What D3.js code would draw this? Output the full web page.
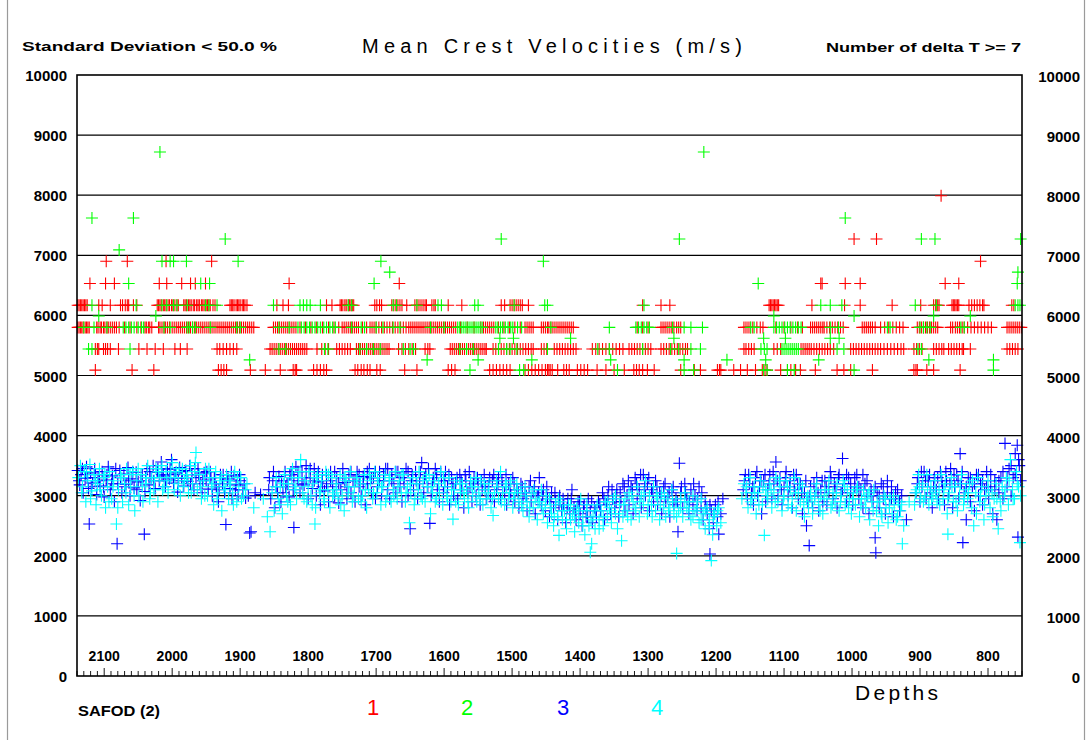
<!DOCTYPE html>
<html>
<head>
<meta charset="utf-8">
<script src="https://cdn.jsdelivr.net/npm/d3@7"></script>
<style>
  body { margin: 0; background: #fff; }
  text { font-family: "Liberation Sans", Arial, sans-serif; }
</style>
</head>
<body>
<svg id="chart" width="1087" height="740"></svg>
<script>
// axis ticks
const yTicks = [0, 1000, 2000, 3000, 4000, 5000, 6000, 7000, 8000, 9000, 10000];
const depthLabels = [2100, 2000, 1900, 1800, 1700, 1600, 1500, 1400, 1300, 1200, 1100, 1000, 900, 800];

// series 1 (red) - depths per velocity level
const red7990 = [869];
const red7270 = [997, 964];
const red6900 = [2097, 2066, 2009, 1942, 811];
const red6530 = [2121, 2098, 2085, 2019, 2008, 1986, 1973, 1966, 1951, 1828, 1666, 1046, 1044, 1010, 988, 863, 843];
const red6170 = [2139, 2137, 2135, 2133, 2131, 2129, 2127, 2125, 2108, 2103, 2091, 2076, 2073, 2069, 2066, 2064, 2057, 2052,
  2022, 2020, 2018, 2016, 2013, 2011, 2009, 2006, 2004, 2001, 1999, 1996, 1993, 1991,
  1983, 1981, 1979, 1976, 1974, 1972, 1969, 1967, 1964, 1962, 1960, 1957, 1955, 1953, 1950, 1948, 1946, 1944, 1940, 1937,
  1915, 1913, 1911, 1909, 1906, 1904, 1902, 1900, 1897, 1895, 1893, 1890, 1846, 1837, 1829, 1773, 1765,
  1753, 1751, 1749, 1746, 1744, 1741, 1739, 1737, 1735, 1733, 1702, 1699, 1695, 1692, 1677, 1674, 1671, 1668, 1665, 1662, 1655,
  1643, 1640, 1637, 1634, 1631, 1628, 1626, 1618, 1615, 1613, 1594, 1574, 1516, 1511, 1503, 1500, 1497, 1494, 1491, 1488, 1485, 1476,
  1308, 1281, 1268, 1122, 1120, 1118, 1116, 1114, 1112, 1110, 1108, 1059, 1011, 988, 941, 899, 880, 877, 874, 872,
  853, 851, 849, 847, 845, 843, 828, 824, 820, 816, 812, 808, 806, 765, 762];
const red5800 = [2139, 2137, 2135, 2133, 2131, 2128, 2126, 2124, 2122, 2111, 2109, 2106, 2104, 2101, 2099, 2096, 2094, 2091, 2088, 2085, 2082,
  2078, 2070, 2062, 2052, 2046, 2040, 2038, 2035, 2033, 2030,
  2020, 2018, 2015, 2012, 2010, 2007, 2004, 2000, 1997, 1994, 1991, 1988, 1985, 1982, 1979, 1976, 1973, 1970, 1967, 1964, 1961, 1958,
  1955, 1952, 1949, 1946, 1943, 1940, 1937, 1934, 1931, 1928, 1925, 1922, 1919, 1916, 1913, 1910, 1907, 1904, 1901, 1898, 1895, 1892,
  1889, 1886, 1883, 1880,
  1851, 1848, 1845, 1842, 1839, 1836, 1833, 1830, 1827, 1824, 1821, 1818, 1812, 1804, 1796, 1788, 1779, 1770, 1762, 1755, 1750, 1747,
  1744, 1741, 1738, 1735, 1732, 1729, 1726, 1720, 1714, 1709, 1706, 1703, 1700, 1696, 1692, 1688, 1684, 1680, 1676, 1672, 1668, 1664,
  1660, 1656, 1652, 1649, 1646, 1643, 1640, 1637, 1634, 1631, 1628, 1625, 1622, 1619, 1616, 1613, 1610, 1607, 1604, 1601, 1598, 1595,
  1592, 1589, 1586, 1583, 1576, 1566, 1556, 1546, 1542, 1539, 1536, 1533, 1530, 1527, 1520, 1512, 1504, 1496, 1488, 1481, 1478, 1475,
  1472, 1469, 1457, 1454, 1451, 1448,
  1446, 1443, 1440, 1437, 1434, 1431, 1428, 1425, 1422, 1419, 1416, 1413, 1410, 1316, 1308, 1300,
  1281, 1278, 1275, 1272, 1269, 1266, 1262, 1258, 1255, 1252, 1159, 1156, 1153, 1150, 1146, 1140, 1135, 1131, 1112, 1100, 1090, 1080, 1073,
  1061, 1058, 1055, 1052, 1049, 1046, 1043, 1041, 1037, 1033, 1029, 1025, 1021, 1017, 1013, 985, 982, 979, 976, 973, 970, 966,
  958, 952, 946, 940, 935, 930, 925, 904, 901, 898, 895, 892, 889, 886, 883, 880, 877, 874,
  855, 852, 848, 845, 842, 838, 835, 830, 825, 820, 815, 810, 805, 800, 795, 772, 769, 766, 763, 760, 757, 754, 751];
const red5440 = [2113, 2110, 2108, 2101, 2098, 2095, 2091, 2079, 2049, 2037, 2025, 2013, 1996, 1988, 1978,
  1934, 1930, 1925, 1920, 1915, 1910, 1905,
  1856, 1853, 1850, 1847, 1844, 1841, 1838, 1835, 1832, 1829, 1826, 1823, 1820, 1817, 1814, 1811, 1808, 1805, 1802,
  1787, 1780, 1775, 1770, 1758, 1754, 1750, 1746, 1742, 1738,
  1729, 1726, 1723, 1720, 1717, 1714, 1711, 1708, 1705, 1702, 1699, 1696, 1693, 1690, 1687, 1684, 1681,
  1667, 1662, 1657, 1652, 1647, 1642, 1628, 1624, 1621,
  1591, 1588, 1585, 1582, 1579, 1576, 1573, 1570, 1567, 1564, 1561, 1558, 1555, 1552, 1549, 1546, 1543, 1540, 1538,
  1528, 1524, 1520, 1516, 1512, 1508, 1504, 1500, 1496, 1492, 1488, 1484, 1480, 1476, 1472, 1469, 1457, 1453, 1449,
  1438, 1434, 1430, 1426, 1422, 1418, 1414, 1410, 1406, 1382, 1377, 1372, 1367, 1362, 1357, 1352, 1347, 1342, 1337,
  1328, 1324, 1320, 1316, 1312, 1308, 1304, 1300, 1296, 1281, 1277, 1273, 1269, 1265, 1261, 1257, 1253, 1249, 1245, 1242,
  1159, 1156, 1152, 1148, 1144, 1115, 1110, 1105, 1075, 1072, 1069, 1066, 1063, 1060,
  1056, 1052, 1048, 1044, 1040, 1036, 1032, 1027, 1002, 998, 994, 990, 986, 982, 978, 974, 970, 966, 962, 958,
  953, 948, 943, 938, 933, 928, 924, 909, 905, 901, 897, 880, 876, 872, 868, 865,
  858, 854, 850, 846, 842, 838, 836, 826, 772, 768, 764, 760, 756];
const red5090 = [2113, 2059, 2027, 1932, 1928, 1924, 1920, 1885, 1863, 1841, 1822, 1819, 1817, 1792, 1787, 1782, 1777, 1773,
  1731, 1727, 1722, 1718, 1713, 1709, 1699, 1694, 1658, 1640, 1594, 1589, 1584, 1533, 1528, 1523, 1518, 1513, 1508, 1503,
  1481, 1476, 1471, 1466, 1461, 1456, 1451, 1448, 1446, 1444, 1441, 1433, 1424, 1420, 1416, 1404, 1399, 1394, 1389,
  1375, 1362, 1350, 1335, 1321, 1317, 1313, 1308, 1301, 1291, 1252, 1232, 1223, 1198, 1195, 1193, 1174, 1164, 1154,
  1142, 1132, 1128, 1125, 1105, 1095, 1090, 1083, 1076, 1054, 1022, 1012, 1002, 970, 909, 906, 904, 890, 880, 841];

// series 2 (green) - depths per velocity level
const green8720 = [2018, 1218];
const green7620 = [2118, 2057, 1010];
const green7270 = [1922, 1516, 1254, 898, 878, 752];
const green7090 = [2078];
const green6900 = [2015, 2003, 1998, 1979, 1903, 1693, 1454];
const green6720 = [1680, 756];
const green6530 = [2064, 1958, 1945, 1703, 1138, 757];
const green6170 = [2118, 2053, 2015, 2008, 1998, 1993, 1978, 1951, 1946, 1934, 1851, 1812, 1807, 1802, 1797, 1782, 1741, 1736,
  1675, 1670, 1640, 1609, 1604, 1555, 1550, 1497, 1452, 1448, 1306, 1046, 1032, 1015, 907, 876, 760, 756, 753];
const green5990 = [2108, 2024, 1115, 997, 880, 826];
const green5800 = [2130, 2115, 2096, 2072, 2068, 2064, 2060, 2056, 2050, 2045, 2042, 2012, 2003, 1978, 1975, 1970, 1966, 1944,
  1905, 1900, 1843, 1828, 1815, 1810, 1806, 1802, 1798, 1794, 1790, 1786, 1782, 1777, 1773, 1768, 1764, 1760, 1736, 1722,
  1717, 1700, 1690, 1675, 1665, 1620, 1600, 1580, 1577, 1574, 1571, 1568, 1565, 1562, 1559, 1556, 1553, 1550, 1547, 1544,
  1524, 1521, 1517, 1514, 1510, 1506, 1502, 1499, 1492, 1486, 1443, 1357, 1318, 1314, 1310, 1306, 1302, 1298, 1264, 1247,
  1237, 1220, 1149, 1144, 1115, 1111, 1107, 1103, 1099, 1095, 1091, 1087, 1083, 1079, 1075, 1032, 1020, 948, 944, 900, 895,
  890, 885, 840, 835];
const green5620 = [1518, 1498, 1414, 1262, 1130, 1098, 1032, 1019];
const green5440 = [2123, 2118, 2062, 1843, 1833, 1776, 1771, 1724, 1714, 1704, 1694, 1660, 1650, 1645, 1577, 1567, 1557,
  1520, 1508, 1503, 1493, 1448, 1374, 1357, 1308, 1267, 1255, 1237, 1223, 1134, 1129, 1125, 1103, 1100, 1097, 1094, 1091,
  1088, 1085, 1082, 1079, 1022, 1012, 903, 898];
const green5260 = [1886, 1625, 1550, 1471, 1355, 1247, 1184, 1127, 1049, 887, 792];
const green5090 = [1562, 1489, 1483, 1345, 1247, 1233, 1130, 1125, 1095, 1085, 997, 792];

// series 3 (blue) - [depth, velocity]
const blue = [
  [2139,3420],[2136,3180],[2134,3350],[2131,3050],[2128,3290],[2126,3480],[2123,3120],[2122,2530],[2120,3380],[2117,3210],
  [2114,3450],[2111,3020],[2109,3300],[2106,3160],[2103,3400],[2100,2980],[2097,3260],[2094,3480],[2091,3100],[2088,3330],
  [2085,2900],[2081,2200],[2080,3200],[2077,3420],[2074,3050],[2071,3360],[2068,3190],[2065,3470],[2062,3000],[2059,3280],
  [2056,3130],[2053,3390],[2050,3230],[2047,2920],[2044,3350],[2041,2360],[2040,3070],[2037,3450],[2034,3180],[2031,3300],
  [2028,3500],[2025,3120],[2022,3390],[2019,3250],[2016,3560],[2013,3330],[2010,3150],[2007,3440],[2004,3280],[2001,3600],
  [1998,3210],[1995,3380],[1992,3060],[1989,3470],[1986,3290],[1983,3160],[1980,3420],[1977,3240],[1974,3500],[1971,3350],
  [1968,3100],[1965,3300],[1962,3450],[1959,3200],[1956,3050],[1953,3380],[1950,3260],[1947,3110],[1944,3400],[1941,3000],
  [1938,3300],[1935,3150],[1932,2900],[1929,3350],[1926,3200],[1923,3050],[1921,2520],[1918,3280],[1915,3120],[1912,2950],
  [1909,3330],[1906,3180],[1903,3000],[1900,3250],[1896,3100],[1892,2960],[1886,2380],[1884,2400],[1878,3050],[1870,3020],
  [1858,3100],[1855,2950],[1852,3250],[1849,2800],[1846,3150],[1843,3320],[1840,2900],[1837,3050],[1834,3400],[1831,3200],
  [1828,2980],[1825,3350],[1822,3100],[1821,2470],[1818,3480],[1815,3250],[1812,3050],[1809,3400],[1806,3180],[1803,3500],
  [1800,2950],[1797,3300],[1794,3120],[1791,3450],[1788,3000],[1785,3230],[1782,2850],[1779,3350],[1776,3080],[1773,3200],
  [1770,2900],[1767,3400],[1764,3150],[1761,3000],[1758,3300],[1755,2880],[1752,3100],[1749,3450],[1746,3220],[1743,2950],
  [1740,3350],[1737,3050],[1734,3250],[1731,2900],[1728,3400],[1725,3150],[1722,3000],[1719,3320],[1716,2850],[1713,3200],
  [1710,3450],[1707,3050],[1704,3300],[1701,2950],[1698,3150],[1695,3400],[1692,3000],[1689,3250],[1686,3450],[1683,3100],
  [1680,2950],[1677,3350],[1674,3200],[1671,3050],[1668,3400],[1665,3150],[1662,2900],[1659,3300],[1656,3450],[1653,3000],
  [1650,2450],[1648,3250],[1645,3100],[1642,3400],[1639,2950],[1636,3200],[1633,3550],[1630,3050],[1627,3350],[1624,3150],
  [1621,2540],[1619,3000],[1616,3300],[1613,3450],[1610,3100],[1607,2900],[1604,3250],[1601,3050],[1598,3400],[1595,3150],
  [1592,2850],[1589,3300],[1586,3000],[1583,3200],[1580,2950],[1577,3350],[1574,3100],[1571,2800],[1568,3250],[1565,3050],
  [1562,3150],[1559,2900],[1556,3300],[1553,3000],[1550,3200],[1547,2850],[1544,3100],[1541,3350],[1538,2950],[1535,3150],
  [1532,3000],[1529,3250],[1526,2900],[1523,3100],[1520,3300],[1517,2950],[1514,3150],[1511,3050],[1508,2850],[1505,3200],
  [1502,3000],[1499,3300],[1496,2900],[1493,3100],[1490,2800],[1487,3200],[1484,2950],[1481,3050],[1478,2750],[1475,3150],
  [1472,2900],[1469,3050],[1466,2700],[1463,3000],[1460,3300],[1457,2850],[1454,3100],[1451,2750],[1448,2950],[1445,2650],
  [1442,3050],[1439,2800],[1436,2900],[1433,2600],[1430,3000],[1427,2750],[1424,2850],[1421,2550],[1418,2950],[1415,2700],
  [1412,3100],[1409,2800],[1406,2600],[1403,2900],[1400,2700],[1397,2500],[1394,2850],[1391,2650],[1388,2950],[1385,2750],
  [1382,2550],[1379,2800],[1376,2650],[1373,2900],[1370,2750],[1367,3050],[1364,2600],[1361,2850],[1358,3150],[1355,2700],
  [1352,2950],[1349,2800],[1346,3100],[1343,2650],[1340,2900],[1337,3200],[1334,2750],[1331,3000],[1328,2850],[1325,3150],
  [1322,2700],[1319,3300],[1316,2950],[1313,3100],[1310,2800],[1307,3350],[1304,3000],[1301,3200],[1298,2750],[1295,3100],
  [1292,2900],[1289,3250],[1286,2850],[1283,3050],[1280,2700],[1277,3150],[1274,2900],[1271,3000],[1268,2650],[1265,3100],
  [1262,2850],[1259,2950],[1256,2400],[1254,3540],[1252,3050],[1249,2800],[1246,3200],[1243,2950],[1240,2700],[1237,3100],
  [1234,2850],[1231,3000],[1228,2750],[1225,3150],[1222,2800],[1219,2600],[1216,2900],[1213,2700],[1210,2450],[1209,2030],
  [1207,2750],[1204,2550],[1201,2850],[1198,2650],[1196,2360],[1193,2700],[1190,2950],[1160,3100],[1157,3350],[1154,2950],
  [1151,3200],[1148,3050],[1145,2850],[1142,3300],[1139,3000],[1136,3150],[1133,2700],[1130,3250],[1127,2900],[1124,3100],
  [1121,3350],[1118,2950],[1115,3200],[1112,3560],[1109,3000],[1106,3300],[1103,2850],[1100,3150],[1097,3400],[1094,3000],
  [1091,3250],[1088,2800],[1085,3100],[1082,3350],[1079,2950],[1076,3200],[1073,2700],[1070,3050],[1067,2500],[1065,2900],
  [1063,2170],[1061,3150],[1058,2800],[1055,3000],[1052,3300],[1049,2750],[1046,3100],[1043,2900],[1040,3250],[1037,2850],
  [1034,3050],[1031,3300],[1028,2950],[1025,3150],[1022,2800],[1019,3350],[1016,3050],[1014,3620],[1011,3200],[1008,2900],
  [1005,3300],[1002,3050],[999,2850],[996,3150],[993,3350],[990,2950],[987,3100],[984,2800],[981,3200],[978,3000],
  [975,2700],[972,3100],[969,2900],[966,2300],[965,2050],[963,3050],[960,2800],[957,3200],[954,2950],[951,2700],
  [948,3050],[945,2850],[942,3150],[939,2650],[936,2950],[933,3100],[930,2750],[927,3000],[920,2600],[906,3050],
  [903,3300],[900,2900],[897,3150],[894,3400],[891,2950],[888,3250],[885,3050],[882,2800],[879,3300],[876,3100],
  [873,2950],[870,3400],[867,3150],[864,2850],[861,3250],[858,3000],[855,3450],[852,2800],[849,3150],[846,3350],
  [843,2950],[841,3700],[839,3200],[837,2220],[835,3050],[832,2600],[829,3300],[826,2900],[823,3150],[820,2750],
  [817,3350],[814,3000],[811,3200],[808,2850],[805,3100],[802,3400],[799,2950],[796,3150],[793,2700],[790,3250],
  [787,2600],[784,3050],[781,3300],[778,2950],[775,3870],[772,3150],[769,3450],[766,3000],[763,3300],[760,3700],
  [757,3840],[756,2310],[754,3500],[752,3250],
  [2137,3250],[2132,3450],[2125,3300],[2119,3150],[2113,3350],[2107,3250],[2101,3150],[2096,3350],[2089,3200],[2083,3450],
  [2076,3300],[2070,3150],[2064,3250],[2058,3400],[2052,3100],[2046,3250],[2039,3300],[2033,3400],[2027,3250],[2021,3450],
  [2015,3350],[2009,3250],[2003,3450],[1997,3350],[1991,3250],[1985,3400],[1979,3300],[1973,3200],[1967,3450],[1961,3350],
  [1955,3250],[1949,3400],[1943,3300],[1937,3200],[1931,3100],[1925,3350],[1919,3250],[1913,3400],[1907,3100],[1901,3350],
  [1894,3200],[1888,3000],[1857,3300],[1851,3400],[1845,3050],[1839,3250],[1833,3150],[1827,3350],[1821,3300],[1815,3400],
  [1809,3200],[1803,3300],[1797,3450],[1791,3250],[1785,3400],[1779,3150],[1773,3350],[1767,3250],[1761,3400],[1755,3200],
  [1749,3300],[1743,3150],[1737,3400],[1731,3250],[1725,3350],[1719,3200],[1713,3400],[1707,3300],[1701,3400],[1695,3250],
  [1689,3350],[1683,3450],[1677,3250],[1671,3400],[1665,3300],[1659,3200],[1653,3400],[1647,3350],[1641,3250],[1635,3400],
  [1629,3300],[1623,3450],[1617,3200],[1611,3350],[1605,3400],[1599,3250],[1593,3350],[1587,3200],[1581,3300],[1575,3250],
  [1569,3350],[1563,3400],[1557,3200],[1551,3300],[1545,3250],[1539,3150],[1533,3300],[1527,3350],[1521,3200],[1515,3250],
  [1509,3350],[1503,3100],[1497,3200],[1491,3050],[1485,3150],[1479,3000],[1473,3250],[1467,3150],[1461,3050],[1455,3000],
  [1449,3150],[1443,2900],[1437,3050],[1431,2850],[1425,2950],[1419,2800],[1413,2950],[1407,2750],[1401,2900],[1395,2800],
  [1389,2650],[1383,2900],[1377,2750],[1371,2850],[1365,2950],[1359,3000],[1353,3100],[1347,2900],[1341,3050],[1335,3150],
  [1329,3250],[1323,3100],[1317,3200],[1311,3350],[1305,3150],[1299,3300],[1293,3050],[1287,3150],[1281,3000],[1275,3200],
  [1269,3050],[1263,3150],[1257,2900],[1251,3150],[1245,3050],[1239,2900],[1233,3200],[1227,2950],[1221,3050],[1215,2800],
  [1209,2850],[1203,2700],[1197,2900],[1158,3250],[1152,3350],[1146,3150],[1140,3400],[1134,3250],[1128,3350],[1122,3200],
  [1116,3400],[1110,3250],[1104,3100],[1098,3300],[1092,3150],[1086,3350],[1080,3200],[1074,3050],[1068,3250],[1062,3000],
  [1056,3200],[1050,3050],[1044,3250],[1038,3150],[1032,3400],[1026,3200],[1020,3300],[1014,3100],[1008,3350],[1002,3200],
  [996,3300],[990,3150],[984,3350],[978,3250],[972,3000],[966,3150],[960,3000],[954,3150],[948,3250],[942,2950],
  [936,3050],[930,2900],[904,3200],[898,3400],[892,3250],[886,3350],[880,3150],[874,3300],[868,3250],[862,3400],
  [856,3200],[850,3350],[844,3250],[838,3400],[832,3150],[826,3300],[820,3200],[814,3350],[808,3250],[802,3150],
  [796,3350],[790,3100],[784,3250],[778,3400],[772,3300],[766,3500],[760,3350],[755,3600]
];

// series 4 (cyan) - [depth, velocity]
const cyan = [
  [2138,3300],[2135,3500],[2132,3150],[2129,3400],[2127,2900],[2124,3250],[2121,3520],[2118,3080],[2115,3350],[2112,2850],
  [2110,3200],[2107,3450],[2104,3000],[2101,3300],[2098,2800],[2095,3150],[2092,3400],[2089,2950],[2086,3250],[2082,2530],
  [2079,3100],[2076,3350],[2073,2900],[2070,3200],[2067,3450],[2064,2850],[2061,3150],[2058,3400],[2055,2750],[2052,3250],
  [2049,3000],[2046,3350],[2043,2900],[2039,3200],[2036,3500],[2033,2950],[2030,3300],[2027,3100],[2024,3450],[2021,2900],
  [2018,3300],[2015,3500],[2012,3150],[2009,3400],[2006,3050],[2003,3300],[2000,3550],[1997,3100],[1994,3400],[1991,3200],
  [1988,3000],[1985,3450],[1982,3250],[1979,3350],[1976,3050],[1973,3500],[1970,3200],[1967,3400],[1965,3720],[1963,3100],
  [1960,3350],[1957,2950],[1954,3250],[1951,3450],[1948,3000],[1945,3300],[1942,3150],[1939,2850],[1936,3400],[1933,3050],
  [1930,3250],[1927,2750],[1924,3150],[1920,3350],[1917,2950],[1914,3200],[1911,3050],[1908,3400],[1905,2900],[1902,3150],
  [1899,3300],[1895,3000],[1890,3200],[1880,2800],[1866,2950],[1860,2650],[1856,2400],[1853,3050],[1850,2750],[1847,3300],
  [1844,2950],[1841,3150],[1838,2700],[1835,3350],[1832,3000],[1829,3200],[1826,2850],[1823,3450],[1820,3100],[1817,2950],
  [1814,3300],[1811,3600],[1808,3050],[1805,3250],[1802,2900],[1799,3400],[1796,3000],[1793,3200],[1790,2530],[1789,2800],
  [1786,3350],[1783,3050],[1780,3250],[1777,2950],[1774,3400],[1771,3100],[1768,2800],[1765,3300],[1762,3050],[1759,3200],
  [1756,2950],[1753,3350],[1750,3000],[1747,2750],[1744,3250],[1741,3050],[1738,3400],[1735,2900],[1732,3150],[1729,3300],
  [1726,2950],[1723,3200],[1720,3000],[1717,3350],[1714,2800],[1711,3100],[1708,3250],[1705,2950],[1702,3400],[1699,3050],
  [1696,3200],[1693,2850],[1690,3150],[1687,3350],[1684,3000],[1681,3250],[1678,2900],[1675,3100],[1672,3400],[1669,2950],
  [1666,3250],[1663,3050],[1660,3350],[1657,2900],[1654,3150],[1651,2550],[1649,3050],[1646,3300],[1643,2950],[1640,3200],
  [1637,3400],[1634,3000],[1631,3250],[1628,2900],[1625,3150],[1622,3350],[1620,2700],[1617,3050],[1614,3250],[1611,2950],
  [1608,3200],[1605,3400],[1602,2850],[1599,3150],[1596,3000],[1593,3300],[1590,2900],[1587,2610],[1585,3100],[1582,3250],
  [1579,2850],[1576,3050],[1573,3200],[1570,2950],[1567,3100],[1564,2800],[1561,3250],[1558,3000],[1555,3150],[1552,2900],
  [1549,3050],[1546,3250],[1543,2850],[1540,3100],[1537,2950],[1534,3200],[1531,2800],[1528,2670],[1526,3050],[1523,3250],
  [1520,2950],[1517,3400],[1514,3050],[1511,2850],[1508,3150],[1505,2950],[1502,3250],[1499,2800],[1496,3050],[1493,3200],
  [1490,2900],[1487,3050],[1484,2750],[1481,3150],[1478,2900],[1475,2650],[1472,3050],[1469,2800],[1466,2950],[1463,2600],
  [1460,2900],[1457,3100],[1454,2700],[1451,2850],[1448,2550],[1445,2950],[1442,2700],[1439,2500],[1436,2850],[1433,2650],
  [1431,2340],[1429,2900],[1426,2600],[1423,2750],[1420,2450],[1417,2850],[1414,2600],[1411,2700],[1408,2400],[1405,2800],
  [1402,2550],[1399,2950],[1396,2650],[1393,2350],[1390,2750],[1387,2500],[1385,2060],[1383,2200],[1381,2650],[1378,2450],
  [1375,2850],[1372,2600],[1369,2750],[1366,2500],[1363,2900],[1360,2650],[1357,2800],[1354,2550],[1351,2950],[1348,2700],
  [1345,2450],[1342,2850],[1339,2250],[1337,2650],[1334,2950],[1331,2750],[1328,3050],[1325,2600],[1322,2900],[1319,2800],
  [1316,3150],[1313,2650],[1310,3000],[1307,2850],[1304,3250],[1301,2700],[1298,3000],[1295,2850],[1292,3150],[1289,2750],
  [1286,2950],[1283,2600],[1280,3050],[1277,2800],[1274,2650],[1271,2950],[1268,2800],[1265,3100],[1262,2700],[1259,2900],
  [1258,2040],[1255,2750],[1252,2950],[1249,2650],[1246,3050],[1243,2800],[1240,2900],[1237,2600],[1234,3000],[1231,2750],
  [1228,2900],[1225,2550],[1222,2950],[1219,2700],[1216,2450],[1213,2800],[1210,2600],[1207,1920],[1205,2350],[1202,2700],
  [1199,2500],[1196,2800],[1193,2550],[1162,2950],[1159,3200],[1156,3050],[1153,2800],[1150,3300],[1147,2950],[1144,3150],
  [1141,2700],[1138,3050],[1135,3250],[1132,2850],[1129,2340],[1127,3100],[1124,2950],[1121,3200],[1118,2800],[1115,3050],
  [1112,3300],[1109,2900],[1106,3150],[1103,2750],[1100,3000],[1097,3250],[1094,2850],[1091,3100],[1088,2950],[1085,3300],
  [1082,2750],[1079,3050],[1076,2900],[1073,3150],[1070,2650],[1067,2950],[1064,2800],[1061,3050],[1058,2700],[1055,2950],
  [1052,3200],[1049,2850],[1046,3000],[1043,2700],[1040,3100],[1037,2950],[1034,3250],[1031,2800],[1028,3050],[1025,2900],
  [1022,3200],[1019,2750],[1016,3000],[1013,3250],[1010,2850],[1007,3100],[1004,2950],[1001,2700],[998,3050],[995,2850],
  [992,3150],[989,2650],[986,2950],[983,3100],[980,2800],[977,3000],[974,2600],[971,2900],[968,3100],[964,2750],
  [961,2500],[959,2900],[956,2650],[953,3000],[950,2800],[947,2550],[944,2950],[941,2700],[938,2850],[935,2600],
  [932,2900],[929,2750],[926,2200],[924,2500],[916,2900],[908,2850],[905,3100],[902,3350],[899,2950],[896,3200],
  [893,3000],[890,3350],[887,2850],[884,3150],[881,3000],[878,3250],[875,2900],[872,3100],[869,3350],[866,2950],
  [863,3200],[860,2700],[859,2360],[857,3050],[854,3300],[851,2900],[848,3150],[845,2750],[842,3000],[839,3350],
  [836,2850],[833,3100],[830,2950],[827,3200],[824,2800],[821,2500],[818,3050],[815,3300],[812,2900],[809,3150],
  [806,2600],[803,3000],[800,3250],[797,2800],[794,3050],[791,2950],[788,3200],[785,2450],[782,2900],[779,3150],
  [776,3000],[773,3300],[770,2850],[767,3600],[764,3100],[761,2950],[758,3400],[755,3150],[753,2220],
  [2133,3050],[2126,3400],[2120,2950],[2113,3250],[2106,3100],[2099,3350],[2093,2900],[2087,3150],[2080,2800],[2074,3300],
  [2068,3050],[2062,3350],[2056,3000],[2050,3450],[2044,3150],[2038,3300],[2032,3050],[2026,3250],[2020,3400],[2014,3100],
  [2008,3250],[2002,3400],[1996,3300],[1990,3450],[1984,3150],[1978,3300],[1972,3050],[1966,3550],[1958,3150],[1952,3000],
  [1946,3450],[1940,3200],[1934,2950],[1928,3300],[1922,3100],[1916,3250],[1910,2850],[1904,3300],[1898,2950],[1892,3100],
  [1848,3150],[1842,2850],[1836,3200],[1830,2900],[1824,3300],[1818,3150],[1812,3400],[1806,2950],[1800,3150],[1794,2850],
  [1788,3300],[1782,3100],[1776,2900],[1770,3350],[1764,3000],[1758,3100],[1752,2850],[1746,3300],[1740,3150],[1734,3000],
  [1728,3250],[1722,2900],[1716,3100],[1710,3350],[1704,3050],[1698,3300],[1692,3150],[1686,2900],[1680,3300],[1674,3000],
  [1668,3150],[1662,3350],[1656,3050],[1650,3200],[1644,2850],[1638,3100],[1632,2950],[1626,3300],[1619,3150],[1613,2900],
  [1607,3050],[1601,3300],[1595,2950],[1589,3100],[1583,2900],[1577,3200],[1571,3050],[1565,2900],[1559,3150],[1553,3300],
  [1547,2950],[1541,3200],[1535,3050],[1529,2950],[1522,3150],[1516,2900],[1510,3200],[1504,3050],[1498,2950],[1492,3100],
  [1486,2850],[1480,3000],[1474,2800],[1468,3100],[1462,2900],[1456,2800],[1450,3000],[1444,2800],[1438,2650],[1432,2950],
  [1426,2750],[1420,2600],[1414,2850],[1408,2650],[1402,2750],[1396,2500],[1390,2850],[1384,2600],[1378,2750],[1372,2450],
  [1366,2650],[1360,2900],[1354,2750],[1348,3000],[1342,2700],[1336,2850],[1330,2650],[1324,3000],[1318,2750],[1312,2900],
  [1306,3050],[1300,2850],[1294,2650],[1288,3000],[1282,2850],[1276,3000],[1270,2750],[1264,2900],[1258,2650],[1252,2800],
  [1246,2900],[1240,2750],[1234,2650],[1228,2800],[1222,2600],[1216,2750],[1210,2500],[1204,2650],[1198,2750],[1155,3150],
  [1149,2900],[1143,3050],[1137,2850],[1131,3150],[1125,3000],[1119,3100],[1113,2900],[1107,3250],[1101,2950],[1095,3150],
  [1089,2800],[1083,3050],[1077,3200],[1071,2850],[1065,3000],[1059,2900],[1053,3100],[1047,2750],[1041,2950],[1035,3100],
  [1029,2850],[1023,3050],[1017,2900],[1011,3150],[1005,2800],[999,2950],[993,3100],[987,2850],[981,2950],[975,3050],
  [969,2750],[963,2900],[957,2700],[951,2950],[945,2800],[939,3000],[933,2650],[927,2850],[907,3050],[901,3150],
  [895,2900],[889,3100],[883,2950],[877,3050],[871,2850],[865,3100],[859,2950],[853,3150],[847,2900],[841,3200],
  [835,2950],[829,3050],[823,3250],[817,2700],[811,3000],[805,2850],[799,3100],[793,2650],[787,2950],[781,2750],
  [775,3100],[769,3250],[763,2950],[757,3200],[752,3000]
];

// group level arrays into series
const series1 = [[7990, red7990], [7270, red7270], [6900, red6900], [6530, red6530], [6170, red6170],
  [5800, red5800], [5440, red5440], [5090, red5090]];
const series2 = [[8720, green8720], [7620, green7620], [7270, green7270], [7090, green7090], [6900, green6900],
  [6720, green6720], [6530, green6530], [6170, green6170], [5990, green5990], [5800, green5800],
  [5620, green5620], [5440, green5440], [5260, green5260], [5090, green5090]];

function flatten(levels) {
    var out = [];
    levels.forEach((lv) => {
        lv[1].forEach((d) => { out.push([d, lv[0]]); });
    });
    return out;
}

const svg = d3.select("#chart");
const plotLeft = 77, plotRight = 1022, plotTop = 75, plotBottom = 676;

const x = d3.scaleLinear().domain([2140, 750]).range([plotLeft, plotRight]);
const y = d3.scaleLinear().domain([0, 10000]).range([plotBottom, plotTop]);

// outer page edges
svg.append("line").attr("x1", 7.5).attr("x2", 7.5).attr("y1", 0).attr("y2", 740)
    .attr("stroke", "#9a9a9a").attr("stroke-width", 1.2);
svg.append("line").attr("x1", 1084.5).attr("x2", 1084.5).attr("y1", 0).attr("y2", 740)
    .attr("stroke", "#9a9a9a").attr("stroke-width", 1.2);

// header texts
svg.append("text").text("Standard Deviation < 50.0 %")
    .attr("x", 22).attr("y", 51)
    .attr("textLength", 255).attr("lengthAdjust", "spacingAndGlyphs")
    .style("font-size", "13px").style("font-weight", "bold");
svg.append("text").text("Mean Crest Velocities (m/s)")
    .attr("x", 362).attr("y", 53)
    .attr("textLength", 380).attr("lengthAdjust", "spacing")
    .style("font-size", "20px");
svg.append("text").text("Number of delta T >= 7")
    .attr("x", 826).attr("y", 52)
    .attr("textLength", 195).attr("lengthAdjust", "spacingAndGlyphs")
    .style("font-size", "13px").style("font-weight", "bold");

// grid lines
svg.append("g").selectAll("line")
    .data(yTicks.filter((d) => d > 0 && d < 10000)).enter()
    .append("line")
    .attr("x1", plotLeft).attr("x2", plotRight)
    .attr("y1", (d) => y(d)).attr("y2", (d) => y(d))
    .attr("stroke", "#000").attr("stroke-width", 1.2);

// left and right value labels
var yl = svg.append("g").style("font-size", "15px").style("font-weight", "bold");
yl.selectAll("text.l").data(yTicks).enter()
    .append("text").attr("class", "l")
    .attr("x", 67).attr("y", (d) => y(d) + 6)
    .attr("text-anchor", "end")
    .text((d) => d);
yl.selectAll("text.r").data(yTicks).enter()
    .append("text").attr("class", "r")
    .attr("x", 1080).attr("y", (d) => y(d) + 7)
    .attr("text-anchor", "end")
    .text((d) => d);

// depth ticks (pointing up from the bottom frame)
const minorTicks = d3.range(750, 2141, 10);
svg.append("g").selectAll("line")
    .data(minorTicks).enter()
    .append("line")
    .attr("x1", (d) => x(d)).attr("x2", (d) => x(d))
    .attr("y1", plotBottom)
    .attr("y2", (d) => d % 100 == 0 ? plotBottom - 8 : plotBottom - 5)
    .attr("stroke", "#000").attr("stroke-width", 0.9);
svg.append("g").selectAll("text")
    .data(depthLabels).enter()
    .append("text")
    .attr("x", (d) => x(d)).attr("y", 661)
    .attr("text-anchor", "middle")
    .style("font-size", "14px").style("font-weight", "bold")
    .text((d) => d);

// markers
function plus(d) {
    var px = x(d[0]), py = y(d[1]);
    return "M" + (px - 6) + "," + py + "h12M" + px + "," + (py - 6) + "v12";
}
function drawSeries(data, colour) {
    svg.append("g").selectAll("path")
        .data(data).enter()
        .append("path")
        .attr("d", plus)
        .attr("fill", "none")
        .attr("stroke", colour)
        .attr("stroke-width", 1.1);
}
drawSeries(flatten(series1), "#ff0000");
drawSeries(flatten(series2), "#00ff00");
drawSeries(blue, "#0000ff");
drawSeries(cyan, "#00ffff");

// frame
svg.append("rect")
    .attr("x", plotLeft).attr("y", plotTop)
    .attr("width", plotRight - plotLeft).attr("height", plotBottom - plotTop)
    .attr("fill", "none").attr("stroke", "#000").attr("stroke-width", 1.6);

// footer texts
svg.append("text").text("SAFOD (2)")
    .attr("x", 78).attr("y", 716)
    .attr("textLength", 82).attr("lengthAdjust", "spacingAndGlyphs")
    .style("font-size", "15px").style("font-weight", "bold");
svg.append("text").text("Depths")
    .attr("x", 855).attr("y", 700)
    .attr("textLength", 83).attr("lengthAdjust", "spacing")
    .style("font-size", "21px");
const legendItems = [["1", "#ff0000", 373], ["2", "#00ff00", 467], ["3", "#0000ff", 563], ["4", "#00ffff", 657]];
svg.append("g").selectAll("text")
    .data(legendItems).enter()
    .append("text")
    .attr("x", (d) => d[2]).attr("y", 715)
    .attr("text-anchor", "middle")
    .style("font-size", "22px")
    .attr("fill", (d) => d[1])
    .text((d) => d[0]);
</script>
</body>
</html>
